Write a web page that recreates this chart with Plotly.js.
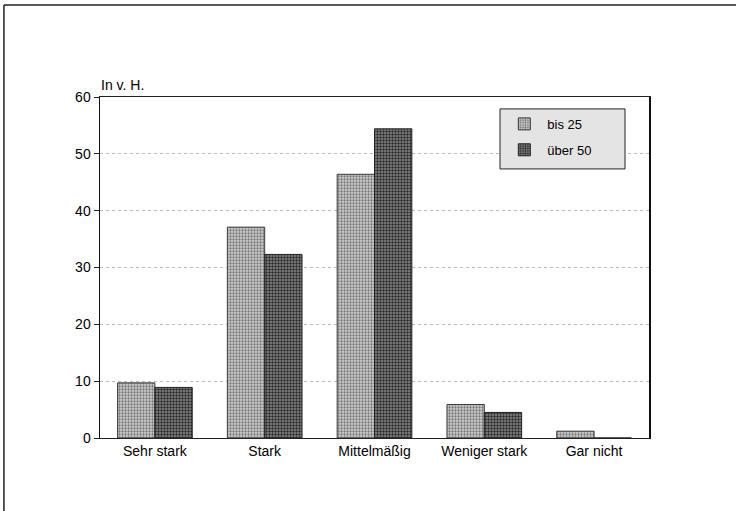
<!DOCTYPE html>
<html>
<head>
<meta charset="utf-8">
<script src="https://cdn.plot.ly/plotly-3.0.1.min.js"></script>
<style>
html,body{margin:0;padding:0;background:#fff;}
#chart{width:736px;height:511px;}
</style>
</head>
<body>
<div id="chart"></div>
<script>
const categories = ["Sehr stark", "Stark", "Mittelmäßig", "Weniger stark", "Gar nicht"];
const seriesNames = ["bis 25", "über 50"];
const bis25 = [9.7, 37.1, 46.4, 5.9, 1.2];
const ueber50 = [8.9, 32.3, 54.4, 4.5, 0];
const yTicks = [0, 10, 20, 30, 40, 50, 60];

const fontFam = "Liberation Sans, Arial, sans-serif";

const traces = [
  {
    type: "bar", name: seriesNames[0], x: categories, y: bis25, legendgroup: "a",
    marker: {
      color: "#b0b0b0",
      line: {color: "#3a3a3a", width: 1},
      pattern: {shape: ".", fgcolor: "#777", bgcolor: "#cfcfcf", size: 3, solidity: 0.45}
    }
  },
  {
    type: "bar", name: seriesNames[1], x: categories, y: ueber50, legendgroup: "b",
    marker: {
      color: "#5a5a5a",
      line: {color: "#222", width: 1},
      pattern: {shape: ".", fgcolor: "#2a2a2a", bgcolor: "#8a8a8a", size: 3, solidity: 0.5}
    }
  }
];

const layout = {
  width: 736, height: 511,
  margin: {l: 100, r: 87, t: 97, b: 73},
  paper_bgcolor: "#fff", plot_bgcolor: "#fff",
  font: {family: fontFam, size: 14, color: "#000"},
  barmode: "group",
  bargap: 0.32, bargroupgap: 0,
  showlegend: true,
  legend: {
    x: 0.731, y: 0.965, xanchor: "left", yanchor: "top",
    bgcolor: "rgba(0,0,0,0)", borderwidth: 0,
    font: {family: fontFam, size: 13, color: "#000"},
    traceorder: "grouped", tracegroupgap: 6, itemwidth: 36
  },
  xaxis: {
    type: "category",
    showline: true, mirror: true, linecolor: "#222", linewidth: 1,
    ticks: "", showgrid: false,
    tickfont: {family: fontFam, size: 14, color: "#000"},
    fixedrange: true
  },
  yaxis: {
    range: [0, 60], tickvals: yTicks,
    showline: true, mirror: true, linecolor: "#111", linewidth: 1.5,
    ticks: "outside", ticklen: 5, tickcolor: "#222",
    showgrid: true, gridcolor: "#bdbdbd", griddash: "dot", gridwidth: 1,
    zeroline: false,
    tickfont: {family: fontFam, size: 14, color: "#000"},
    fixedrange: true
  },
  annotations: [
    {text: "In v. H.", xref: "paper", yref: "paper", x: -0.002, y: 1, xanchor: "left", yanchor: "bottom",
     yshift: 2, showarrow: false, font: {family: fontFam, size: 14, color: "#000"}}
  ],
  shapes: [
    {type: "rect", xref: "paper", yref: "paper", x0: 0.7286, x1: 0.9563, y0: 0.789, y1: 0.965,
     layer: "above", fillcolor: "#e4e4e4", line: {color: "#222", width: 1}},
    {type: "line", xref: "paper", yref: "paper", x0: -0.175, x1: -0.175, y0: -0.22, y1: 1.27,
     line: {color: "#222", width: 1.5}},
    {type: "line", xref: "paper", yref: "paper", x0: -0.175, x1: 1.4, y0: 1.27, y1: 1.27,
     line: {color: "#222", width: 1.5}}
  ]
};

Plotly.newPlot("chart", traces, layout, {staticPlot: true, displayModeBar: false});
</script>
</body>
</html>
